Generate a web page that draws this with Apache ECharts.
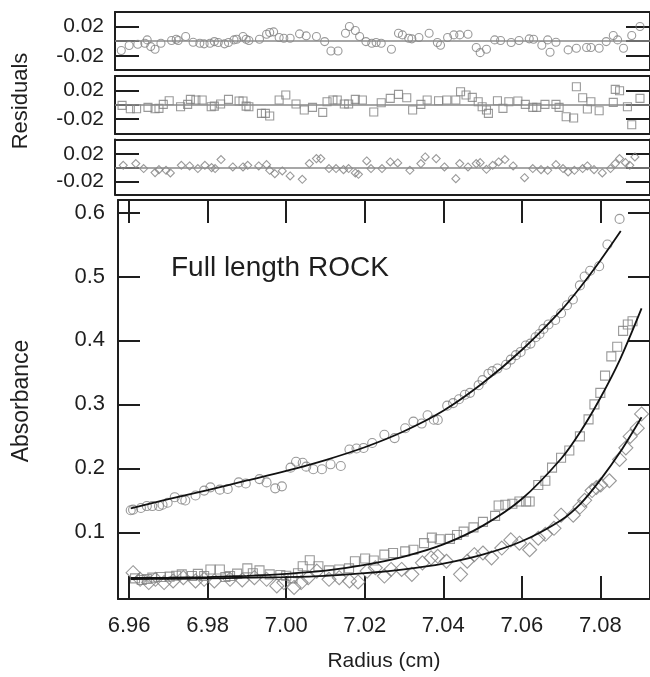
<!DOCTYPE html>
<html><head><meta charset="utf-8">
<script src="https://cdn.jsdelivr.net/npm/echarts@6/dist/echarts.min.js"></script>
<style>html,body{margin:0;padding:0;background:#fff}#c{width:650px;height:677px}</style>
</head><body><div id="c"></div>
<script>
// ---------- tick values ----------
const xTicks = [6.96, 6.98, 7.00, 7.02, 7.04, 7.06, 7.08];
const yTicks = [0.1, 0.2, 0.3, 0.4, 0.5, 0.6];
const resTicks = [-0.02, 0, 0.02];
const resLabels = [-0.02, 0.02];

// ---------- residuals [radius, residual] ----------
const resCircles = [[6.9580,-0.0127],[6.9600,-0.0059],[6.9622,-0.0041],[6.9640,-0.0027],[6.9646,0.0018],[6.9655,-0.0073],[6.9666,-0.0109],[6.9681,-0.0027],[6.9708,0.0009],[6.9720,0.0027],
[6.9725,0.0009],[6.9744,0.0064],[6.9763,-0.0014],[6.9780,-0.0027],[6.9791,-0.0036],[6.9806,-0.0027],[6.9817,-0.0005],[6.9827,-0.0018],[6.9843,-0.0036],[6.9853,-0.0018],
[6.9867,0.0018],[6.9874,0.0027],[6.9890,0.0064],[6.9898,0.0027],[6.9905,0.0009],[6.9932,0.0027],[6.9950,0.0095],[6.9958,0.0118],[6.9968,0.0127],[6.9982,0.0050],
[6.9994,0.0041],[7.0010,0.0041],[7.0034,0.0100],[7.0051,0.0073],[7.0077,0.0064],[7.0098,-0.0005],[7.0114,-0.0132],[7.0132,-0.0132],[7.0151,0.0109],[7.0161,0.0200],
[7.0176,0.0145],[7.0187,0.0064],[7.0203,-0.0005],[7.0218,-0.0027],[7.0229,-0.0018],[7.0242,-0.0027],[7.0268,-0.0109],[7.0286,0.0109],[7.0296,0.0086],[7.0312,0.0041],
[7.0320,0.0032],[7.0338,0.0050],[7.0364,0.0109],[7.0385,-0.0018],[7.0393,-0.0055],[7.0411,0.0050],[7.0427,0.0086],[7.0442,0.0086],[7.0463,0.0095],[7.0484,-0.0086],
[7.0494,-0.0155],[7.0510,-0.0109],[7.0531,0.0018],[7.0546,0.0009],[7.0573,-0.0018],[7.0593,0.0009],[7.0619,0.0032],[7.0630,0.0027],[7.0651,-0.0055],[7.0666,0.0018],
[7.0672,-0.0150],[7.0687,-0.0014],[7.0718,-0.0118],[7.0739,-0.0095],[7.0765,-0.0086],[7.0776,-0.0086],[7.0797,-0.0095],[7.0815,-0.0005],[7.0833,0.0077],[7.0844,0.0018],
[7.0859,-0.0095],[7.0880,0.0077],[7.0901,0.0200]];

const resSquares = [[6.9582,-0.0009],[6.9603,-0.0056],[6.9619,-0.0056],[6.9648,-0.0037],[6.9666,-0.0056],[6.9676,-0.0051],[6.9687,0.0005],[6.9702,0.0056],[6.9731,-0.0028],[6.9749,0.0005],
[6.9756,0.0074],[6.9770,0.0065],[6.9786,0.0065],[6.9809,-0.0028],[6.9817,-0.0019],[6.9833,0.0009],[6.9853,0.0074],[6.9880,0.0051],[6.9890,0.0051],[6.9898,-0.0019],
[6.9905,-0.0028],[6.9937,-0.0121],[6.9947,-0.0121],[6.9958,-0.0158],[6.9982,0.0065],[6.9999,0.0135],[7.0025,0.0009],[7.0046,-0.0074],[7.0067,-0.0037],[7.0093,-0.0107],
[7.0104,0.0042],[7.0119,0.0065],[7.0130,0.0065],[7.0148,0.0009],[7.0159,0.0009],[7.0176,0.0074],[7.0194,0.0065],[7.0223,-0.0102],[7.0242,0.0028],[7.0265,0.0088],
[7.0286,0.0144],[7.0307,0.0098],[7.0322,-0.0074],[7.0343,0.0005],[7.0359,0.0065],[7.0388,0.0056],[7.0409,0.0065],[7.0432,0.0065],[7.0444,0.0181],[7.0458,0.0135],
[7.0474,0.0102],[7.0489,0.0042],[7.0499,-0.0028],[7.0510,-0.0074],[7.0515,-0.0121],[7.0538,0.0056],[7.0552,-0.0051],[7.0567,0.0042],[7.0590,0.0051],[7.0609,0.0005],
[7.0628,-0.0037],[7.0638,-0.0037],[7.0659,0.0005],[7.0687,0.0005],[7.0695,-0.0037],[7.0713,-0.0167],[7.0732,-0.0186],[7.0739,0.0251],[7.0755,0.0098],[7.0767,-0.0060],
[7.0776,0.0042],[7.0797,-0.0084],[7.0833,0.0033],[7.0838,0.0214],[7.0849,0.0195],[7.0869,-0.0028],[7.0880,-0.0279],[7.0901,0.0088]];

const resDiamonds = [[6.9585,0.0034],[6.9617,0.0058],[6.9637,-0.0014],[6.9666,-0.0072],[6.9676,-0.0029],[6.9694,-0.0039],[6.9705,-0.0077],[6.9733,0.0034],[6.9754,0.0024],[6.9775,-0.0014],
[6.9793,0.0034],[6.9810,0.0000],[6.9819,-0.0014],[6.9834,0.0116],[6.9864,0.0010],[6.9890,0.0010],[6.9902,0.0034],[6.9930,0.0024],[6.9950,0.0043],[6.9958,-0.0039],
[6.9971,-0.0087],[6.9990,-0.0048],[7.0010,-0.0120],[7.0041,-0.0169],[7.0059,0.0058],[7.0077,0.0130],[7.0088,0.0130],[7.0109,-0.0014],[7.0127,-0.0014],[7.0146,-0.0029],
[7.0159,-0.0014],[7.0176,-0.0077],[7.0184,-0.0096],[7.0205,0.0096],[7.0216,-0.0014],[7.0244,-0.0014],[7.0265,0.0082],[7.0284,0.0067],[7.0315,-0.0039],[7.0343,0.0058],
[7.0354,0.0154],[7.0382,0.0130],[7.0403,0.0010],[7.0432,-0.0159],[7.0442,0.0058],[7.0463,0.0010],[7.0484,0.0058],[7.0494,0.0072],[7.0510,-0.0024],[7.0526,0.0034],
[7.0541,0.0082],[7.0557,0.0116],[7.0578,0.0024],[7.0607,-0.0145],[7.0628,-0.0014],[7.0649,-0.0029],[7.0666,-0.0039],[7.0687,0.0043],[7.0705,-0.0014],[7.0718,-0.0063],
[7.0734,-0.0039],[7.0755,-0.0014],[7.0767,0.0024],[7.0784,-0.0029],[7.0805,-0.0077],[7.0826,-0.0014],[7.0838,0.0058],[7.0849,0.0130],[7.0864,0.0072],[7.0875,0.0034],[7.0888,0.0154]];

// ---------- absorbance data [radius, absorbance] ----------
const absCircles = [[6.9604,0.1344],[6.9610,0.1354],[6.9630,0.1380],[6.9645,0.1410],[6.9659,0.1410],[6.9676,0.1410],[6.9685,0.1431],[6.9698,0.1462],[6.9716,0.1549],[6.9734,0.1513],
[6.9743,0.1498],[6.9769,0.1575],[6.9791,0.1652],[6.9807,0.1703],[6.9831,0.1667],[6.9851,0.1678],[6.9879,0.1780],[6.9897,0.1764],[6.9932,0.1832],[6.9950,0.1780],
[6.9972,0.1687],[6.9989,0.1718],[7.0011,0.2011],[7.0025,0.2103],[7.0042,0.2088],[7.0051,0.2026],[7.0069,0.1986],[7.0091,0.1986],[7.0113,0.2063],[7.0139,0.2037],
[7.0161,0.2294],[7.0179,0.2310],[7.0197,0.2319],[7.0219,0.2396],[7.0250,0.2525],[7.0276,0.2473],[7.0303,0.2627],[7.0324,0.2730],[7.0345,0.2700],[7.0360,0.2830],
[7.0376,0.2760],[7.0386,0.2757],[7.0410,0.2980],[7.0425,0.3020],[7.0440,0.3080],[7.0455,0.3150],[7.0468,0.3180],[7.0490,0.3300],[7.0500,0.3380],[7.0515,0.3480],
[7.0525,0.3520],[7.0538,0.3560],[7.0560,0.3620],[7.0572,0.3700],[7.0585,0.3770],[7.0597,0.3820],[7.0610,0.3920],[7.0622,0.3950],[7.0635,0.4050],[7.0645,0.4100],
[7.0655,0.4180],[7.0668,0.4250],[7.0685,0.4320],[7.0700,0.4425],[7.0715,0.4550],[7.0730,0.4640],[7.0748,0.4860],[7.0760,0.5000],[7.0774,0.5090],[7.0797,0.5160],
[7.0818,0.5500],[7.0849,0.5900]];

const absSquares = [[6.9615,0.0280],[6.9632,0.0254],[6.9645,0.0270],[6.9659,0.0291],[6.9681,0.0300],[6.9703,0.0307],[6.9720,0.0320],[6.9734,0.0342],[6.9760,0.0316],[6.9775,0.0350],
[6.9791,0.0316],[6.9807,0.0419],[6.9831,0.0419],[6.9845,0.0300],[6.9857,0.0316],[6.9875,0.0353],[6.9901,0.0435],[6.9915,0.0360],[6.9932,0.0404],[6.9958,0.0342],
[6.9985,0.0332],[7.0000,0.0320],[7.0016,0.0280],[7.0030,0.0360],[7.0042,0.0470],[7.0060,0.0562],[7.0082,0.0470],[7.0109,0.0404],[7.0135,0.0419],[7.0160,0.0435],
[7.0175,0.0547],[7.0201,0.0589],[7.0223,0.0558],[7.0250,0.0650],[7.0272,0.0676],[7.0303,0.0701],[7.0324,0.0727],[7.0351,0.0830],[7.0371,0.0917],[7.0391,0.0892],
[7.0417,0.0897],[7.0435,0.0958],[7.0452,0.1010],[7.0477,0.1077],[7.0501,0.1163],[7.0532,0.1256],[7.0541,0.1420],[7.0558,0.1431],[7.0576,0.1447],[7.0594,0.1482],
[7.0611,0.1482],[7.0620,0.1482],[7.0642,0.1740],[7.0660,0.1806],[7.0677,0.2011],[7.0700,0.2165],[7.0721,0.2279],[7.0748,0.2499],[7.0770,0.2766],[7.0785,0.3000],
[7.0800,0.3180],[7.0812,0.3450],[7.0828,0.3750],[7.0843,0.3900],[7.0858,0.4150],[7.0870,0.4250],[7.0882,0.4300]];

const absDiamonds = [[6.9610,0.0368],[6.9628,0.0265],[6.9650,0.0214],[6.9667,0.0265],[6.9689,0.0214],[6.9712,0.0239],[6.9738,0.0291],[6.9769,0.0239],[6.9791,0.0265],[6.9817,0.0239],
[6.9857,0.0265],[6.9888,0.0254],[6.9919,0.0291],[6.9950,0.0265],[6.9976,0.0162],[6.9994,0.0214],[7.0020,0.0137],[7.0038,0.0214],[7.0056,0.0291],[7.0078,0.0393],
[7.0109,0.0265],[7.0135,0.0291],[7.0161,0.0239],[7.0183,0.0224],[7.0206,0.0393],[7.0227,0.0445],[7.0250,0.0316],[7.0267,0.0419],[7.0294,0.0419],[7.0320,0.0342],
[7.0347,0.0522],[7.0369,0.0600],[7.0386,0.0624],[7.0408,0.0547],[7.0444,0.0342],[7.0461,0.0547],[7.0479,0.0650],[7.0501,0.0676],[7.0523,0.0600],[7.0549,0.0753],
[7.0572,0.0881],[7.0594,0.0830],[7.0620,0.0727],[7.0642,0.0907],[7.0660,0.0969],[7.0682,0.1062],[7.0700,0.1267],[7.0731,0.1267],[7.0748,0.1394],[7.0760,0.1500],
[7.0779,0.1652],[7.0790,0.1700],[7.0801,0.1740],[7.0823,0.1806],[7.0849,0.2140],[7.0865,0.2320],[7.0876,0.2499],[7.0894,0.2627],[7.0905,0.2850]];

// ---------- fitted curves [radius, absorbance] ----------
const fitCircles = [[6.9604,0.1375],[6.97,0.152],[6.98,0.166],[6.99,0.181],[7.00,0.196],[7.01,0.213],[7.02,0.233],[7.03,0.258],[7.04,0.290],[7.05,0.333],[7.06,0.385],[7.07,0.447],[7.075,0.484],[7.08,0.525],[7.0852,0.571]];
const fitSquares = [[6.9604,0.0285],[6.97,0.029],[6.98,0.030],[6.99,0.032],[7.00,0.035],[7.01,0.040],[7.02,0.049],[7.03,0.062],[7.04,0.081],[7.05,0.110],[7.06,0.152],[7.07,0.215],[7.075,0.258],[7.08,0.310],[7.085,0.370],[7.0905,0.450]];
const fitDiamonds = [[6.9604,0.027],[6.97,0.0273],[6.98,0.028],[6.99,0.029],[7.00,0.030],[7.01,0.032],[7.02,0.036],[7.03,0.042],[7.04,0.051],[7.05,0.065],[7.06,0.086],[7.07,0.119],[7.075,0.145],[7.08,0.182],[7.085,0.225],[7.0905,0.280]];

// ---------- layout / styling ----------
const FONT = "'Liberation Sans', Arial, Helvetica, sans-serif";
const INK = '#1e1e1e';
const MARK = '#808080';
const frame = {show: true, onZero: false, lineStyle: {color: INK, width: 2}};
const tickStyle = {color: INK, width: 2};

const panels = [
  {grid: {left: 115, top: 12, width: 542, height: 58},   x: [6.9564, 7.09265], y: [-0.0391, 0.0397], res: true},
  {grid: {left: 115, top: 76, width: 542, height: 58},   x: [6.9564, 7.09265], y: [-0.0408, 0.0400], res: true},
  {grid: {left: 115, top: 139.5, width: 542, height: 55}, x: [6.9564, 7.09265], y: [-0.0388, 0.0406], res: true},
  {grid: {left: 118, top: 200, width: 539, height: 405}, x: [6.95716, 7.09265], y: [-0.00431, 0.61957], res: false}
];

const grids = [], xAxes = [], yAxes = [];
panels.forEach((p, i) => {
  grids.push(Object.assign({containLabel: false}, p.grid));
  const xt = p.res ? {show: false} : {show: true, inside: true, length: 23, customValues: xTicks, lineStyle: tickStyle};
  xAxes.push({type: 'value', gridIndex: i, position: 'bottom', min: p.x[0], max: p.x[1],
    axisLine: frame, splitLine: {show: false}, axisTick: xt,
    axisLabel: p.res ? {show: false} : {show: true, customValues: xTicks, margin: 16, fontSize: 22, color: INK, fontFamily: FONT, formatter: v => v.toFixed(2)},
    name: p.res ? '' : 'Radius (cm)', nameLocation: 'middle', nameGap: 52,
    nameTextStyle: {fontSize: 21, color: INK, fontFamily: FONT}});
  xAxes.push({type: 'value', gridIndex: i, position: 'top', min: p.x[0], max: p.x[1],
    axisLine: frame, splitLine: {show: false}, axisTick: xt, axisLabel: {show: false}});
  const yt = p.res ? {show: true, inside: true, length: 24, customValues: resTicks, lineStyle: tickStyle}
                   : {show: true, inside: true, length: 22, customValues: yTicks, lineStyle: tickStyle};
  yAxes.push({type: 'value', gridIndex: i, position: 'left', min: p.y[0], max: p.y[1],
    axisLine: frame, splitLine: {show: false}, axisTick: yt,
    axisLabel: p.res ? {show: true, customValues: resLabels, margin: 11, fontSize: 21, color: INK, fontFamily: FONT, formatter: v => v.toFixed(2)}
                     : {show: true, customValues: yTicks, margin: 13, fontSize: 22, color: INK, fontFamily: FONT, formatter: v => v.toFixed(1)}});
  yAxes.push({type: 'value', gridIndex: i, position: 'right', min: p.y[0], max: p.y[1],
    axisLine: frame, splitLine: {show: false}, axisTick: yt, axisLabel: {show: false}});
});

function scatter(data, panel, symbol, size) {
  return {type: 'scatter', xAxisIndex: panel * 2, yAxisIndex: panel * 2, data: data,
    symbol: symbol, symbolSize: size, silent: true,
    itemStyle: {color: 'rgba(0,0,0,0)', borderColor: MARK, borderWidth: 1.1}};
}
function zeroLine() {
  return {silent: true, symbol: ['none', 'none'], label: {show: false},
    lineStyle: {color: '#8a8a8a', width: 1.5, type: 'solid'}, data: [{yAxis: 0}]};
}
function fit(data) {
  return {type: 'line', xAxisIndex: 6, yAxisIndex: 6, data: data, showSymbol: false, smooth: 0.3,
    silent: true, z: 5, lineStyle: {color: '#111', width: 1.8}};
}

const s1 = scatter(resCircles, 0, 'circle', 8);  s1.markLine = zeroLine();
const s2 = scatter(resSquares, 1, 'rect', 8);    s2.markLine = zeroLine();
const s3 = scatter(resDiamonds, 2, 'diamond', 8); s3.markLine = zeroLine();

const option = {
  animation: false,
  backgroundColor: '#fff',
  textStyle: {fontFamily: FONT},
  grid: grids, xAxis: xAxes, yAxis: yAxes,
  series: [s1, s2, s3,
    scatter(absCircles, 3, 'circle', 9),
    scatter(absSquares, 3, 'rect', 9),
    scatter(absDiamonds, 3, 'diamond', 14),
    fit(fitCircles), fit(fitSquares), fit(fitDiamonds)],
  graphic: [
    {type: 'text', left: 171, top: 254, style: {text: 'Full length ROCK', fontSize: 28, fill: INK, fontFamily: FONT}},
    {type: 'text', x: 22, y: 401, rotation: Math.PI / 2, style: {text: 'Absorbance', fontSize: 23, fill: INK, fontFamily: FONT, align: 'center', verticalAlign: 'middle'}},
    {type: 'text', x: 21, y: 101, rotation: Math.PI / 2, style: {text: 'Residuals', fontSize: 22, fill: INK, fontFamily: FONT, align: 'center', verticalAlign: 'middle'}}
  ]
};
const chart = echarts.init(document.getElementById('c'));
chart.setOption(option);
</script></body></html>
